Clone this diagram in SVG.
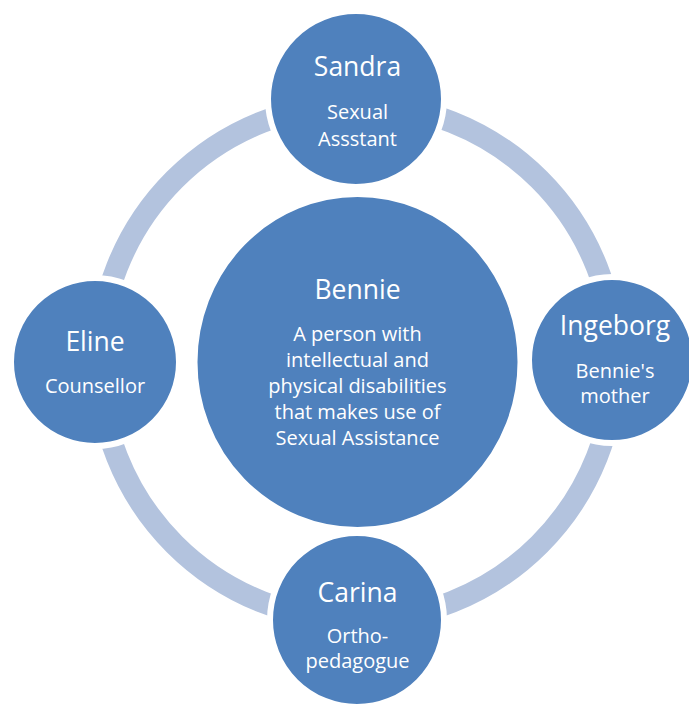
<svg xmlns="http://www.w3.org/2000/svg" width="689" height="713" viewBox="0 0 689 713">
<style>
.node{fill:#4F81BD;stroke:#FFFFFF;stroke-width:6}
.ring{fill:none;stroke:#B3C3DE;stroke-width:22}
text{font-family:"Open Sans","Noto Sans",sans-serif;fill:#FFFFFF;text-anchor:middle}
.t{font-size:26.5px}
.s{font-size:20px}
</style>
<rect width="689" height="713" fill="#FFFFFF"/>
<g id="connectors">
<circle class="ring" cx="357" cy="362" r="258"/>
</g>
<g id="bennie">
<ellipse class="node" cx="357.5" cy="362" rx="163" ry="168"/>
<text class="t" x="357.5" y="299">Bennie</text>
<text class="s" x="357.5" y="341">A person with</text>
<text class="s" x="357.5" y="367">intellectual and</text>
<text class="s" x="357.5" y="392.5">physical disabilities</text>
<text class="s" x="357.5" y="418.5">that makes use of</text>
<text class="s" x="357.5" y="445">Sexual Assistance</text>
</g>
<g id="sandra">
<circle class="node" cx="356" cy="99" r="88"/>
<text class="t" x="357.5" y="76">Sandra</text>
<text class="s" x="357.5" y="119">Sexual</text>
<text class="s" x="357.5" y="145.5">Assstant</text>
</g>
<g id="eline">
<circle class="node" cx="95" cy="362" r="84"/>
<text class="t" x="95" y="350.5">Eline</text>
<text class="s" x="95" y="393">Counsellor</text>
</g>
<g id="ingeborg">
<circle class="node" cx="612" cy="360" r="83"/>
<text class="t" x="615" y="335">Ingeborg</text>
<text class="s" x="615" y="378">Bennie's</text>
<text class="s" x="615" y="403">mother</text>
</g>
<g id="carina">
<circle class="node" cx="357" cy="620" r="87"/>
<text class="t" x="357.5" y="601.5">Carina</text>
<text class="s" x="357.5" y="643">Ortho-</text>
<text class="s" x="357.5" y="668">pedagogue</text>
</g>
</svg>
